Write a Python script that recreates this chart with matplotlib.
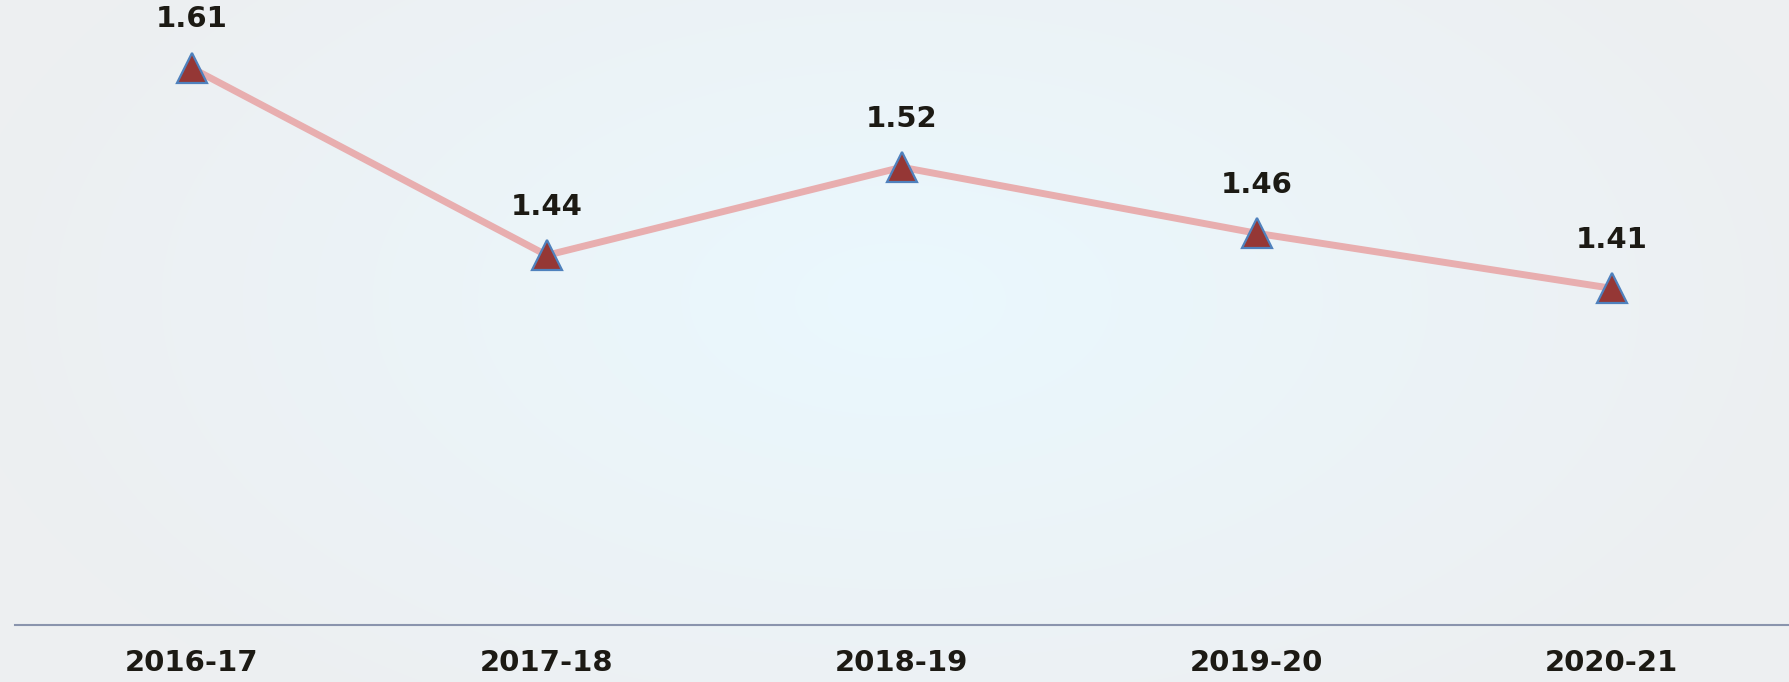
import numpy as np
import matplotlib.pyplot as plt

years = ["2016-17", "2017-18", "2018-19", "2019-20", "2020-21"]
values = [1.61, 1.44, 1.52, 1.46, 1.41]

W, H = 1789, 682
fig = plt.figure(figsize=(W / 100, H / 100), dpi=100)

# radial background
bg = fig.add_axes([0, 0, 1, 1], zorder=0)
yy, xx = np.mgrid[0:H, 0:W]
r = np.sqrt(((xx - 900) / 950.0) ** 2 + ((yy - 300) / 520.0) ** 2)
r = np.clip(r, 0, 1)[..., None]
inner = np.array([234, 248, 254]) / 255.0
outer = np.array([237, 239, 241]) / 255.0
img = inner * (1 - r) + outer * r
bg.imshow(img, aspect="auto", extent=(0, W, H, 0))
bg.axis("off")

ax = fig.add_axes([14.5 / W, 57 / H, 1 - 14.5 / W, 1 - 57 / H], zorder=1)
ax.patch.set_alpha(0)
x = np.arange(len(years))
ax.plot(x, values, color="#E8AEAF", lw=5, solid_capstyle="butt", zorder=2)
ax.plot(x, values, ls="none", marker="^", ms=21, mfc="#953735",
        mec="#4F81BD", mew=1.6, zorder=3)
for xi, v in zip(x, values):
    ax.annotate(f"{v:.2f}", (xi, v), xytext=(0, 25), textcoords="offset points",
                ha="center", va="bottom", fontsize=21, fontweight="bold",
                color="#1C1A14")

ax.set_xlim(-0.5, 4.5)
ax.set_ylim(1.104, 1.672)
ax.set_xticks(x)
ax.set_xticklabels(years, fontsize=21, fontweight="bold", color="#1C1A14")
ax.tick_params(axis="x", length=0, pad=17)
ax.set_yticks([])
for s in ["top", "right", "left"]:
    ax.spines[s].set_visible(False)
ax.spines["bottom"].set_color("#8A94AD")
ax.spines["bottom"].set_linewidth(1.5)

fig.savefig("out.png", dpi=100)
